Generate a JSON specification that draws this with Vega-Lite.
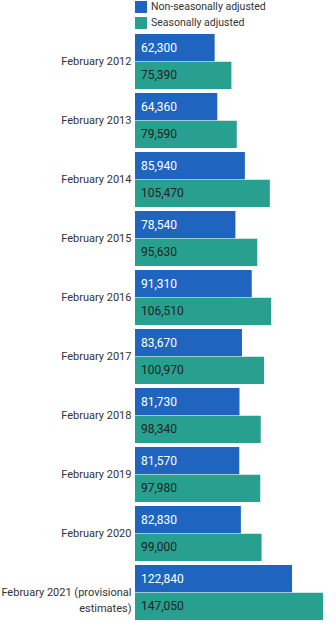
{
  "$schema": "https://vega.github.io/schema/vega-lite/v6.json",
  "autosize": {"type": "none"},
  "padding": {"left": 135, "top": 32, "right": 13, "bottom": 7},
  "width": 188,
  "height": 590,
  "background": "white",
  "config": {"view": {"stroke": null}, "font": "Roboto"},
  "data": {"values": [
    {"period": "February 2012", "series": "Non-seasonally adjusted", "value": 62300},
    {"period": "February 2012", "series": "Seasonally adjusted", "value": 75390},
    {"period": "February 2013", "series": "Non-seasonally adjusted", "value": 64360},
    {"period": "February 2013", "series": "Seasonally adjusted", "value": 79590},
    {"period": "February 2014", "series": "Non-seasonally adjusted", "value": 85940},
    {"period": "February 2014", "series": "Seasonally adjusted", "value": 105470},
    {"period": "February 2015", "series": "Non-seasonally adjusted", "value": 78540},
    {"period": "February 2015", "series": "Seasonally adjusted", "value": 95630},
    {"period": "February 2016", "series": "Non-seasonally adjusted", "value": 91310},
    {"period": "February 2016", "series": "Seasonally adjusted", "value": 106510},
    {"period": "February 2017", "series": "Non-seasonally adjusted", "value": 83670},
    {"period": "February 2017", "series": "Seasonally adjusted", "value": 100970},
    {"period": "February 2018", "series": "Non-seasonally adjusted", "value": 81730},
    {"period": "February 2018", "series": "Seasonally adjusted", "value": 98340},
    {"period": "February 2019", "series": "Non-seasonally adjusted", "value": 81570},
    {"period": "February 2019", "series": "Seasonally adjusted", "value": 97980},
    {"period": "February 2020", "series": "Non-seasonally adjusted", "value": 82830},
    {"period": "February 2020", "series": "Seasonally adjusted", "value": 99000},
    {"period": "February 2021 (provisional estimates)", "series": "Non-seasonally adjusted", "value": 122840},
    {"period": "February 2021 (provisional estimates)", "series": "Seasonally adjusted", "value": 147050}
  ]},
  "encoding": {
    "y": {
      "field": "period", "type": "nominal", "sort": null,
      "scale": {"paddingInner": 0.068, "paddingOuter": 0.034},
      "axis": {
        "title": null, "domain": false, "ticks": false, "labelPadding": 4,
        "labelFontSize": 11, "labelColor": "#333333", "labelLimit": 200, "labelLineHeight": 16,
        "labelExpr": "datum.value == 'February 2021 (provisional estimates)' ? ['February 2021 (provisional', 'estimates)'] : datum.label"
      }
    },
    "yOffset": {"field": "series", "type": "nominal", "scale": {"paddingInner": 0.02}}
  },
  "layer": [
    {
      "mark": {"type": "bar"},
      "encoding": {
        "x": {"field": "value", "type": "quantitative", "scale": {"domain": [0, 147050], "nice": false}, "axis": null},
        "color": {
          "field": "series", "type": "nominal",
          "scale": {"domain": ["Non-seasonally adjusted", "Seasonally adjusted"], "range": ["#1f65c0", "#27a08f"]},
          "legend": {
            "title": null, "orient": "none", "legendX": 0, "legendY": -31,
            "symbolType": "square", "symbolSize": 144, "symbolStrokeWidth": 0,
            "labelFontSize": 10.5, "labelColor": "#333333", "rowPadding": 4, "labelOffset": 4
          }
        }
      }
    },
    {
      "mark": {"type": "text", "align": "left", "baseline": "middle", "dx": 6, "fontSize": 12},
      "encoding": {
        "x": {"datum": 0, "type": "quantitative"},
        "text": {"field": "value", "type": "quantitative", "format": ","},
        "color": {
          "condition": {"test": "datum.series == 'Non-seasonally adjusted'", "value": "white"},
          "value": "#222222"
        }
      }
    }
  ]
}
